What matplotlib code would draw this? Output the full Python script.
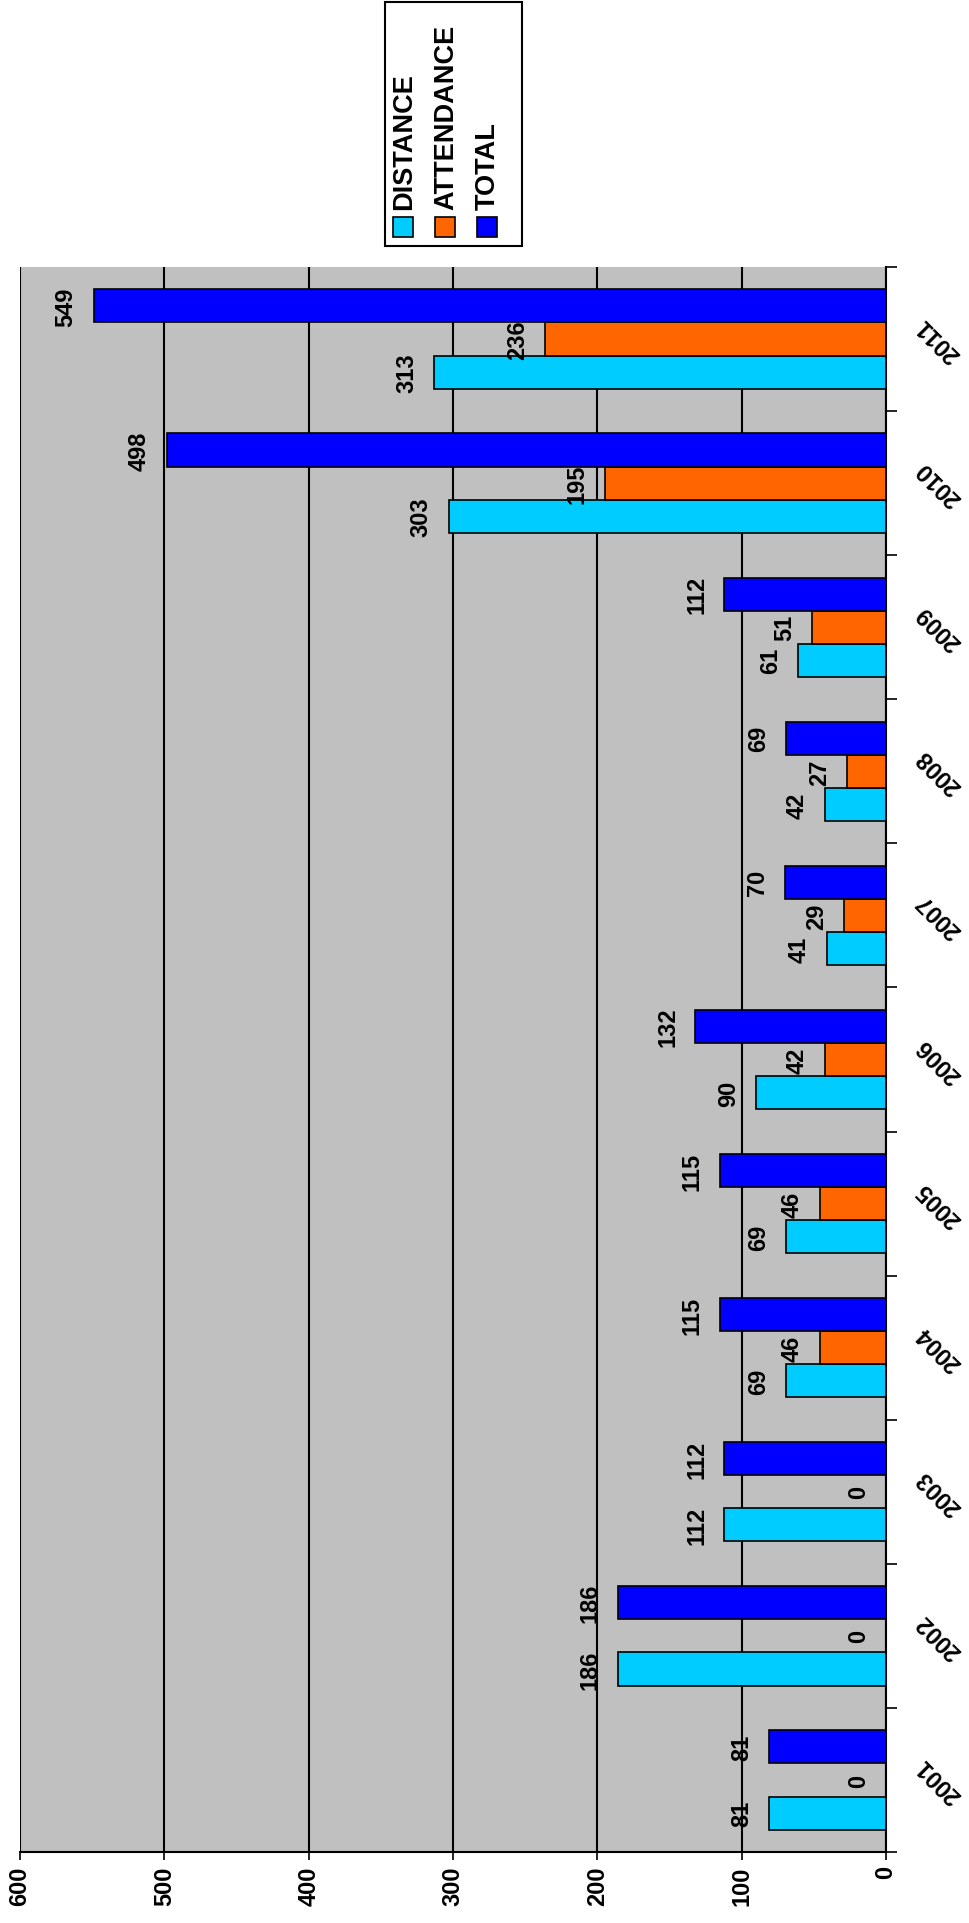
import matplotlib
matplotlib.use("Agg")
import matplotlib.pyplot as plt
from matplotlib.patches import Rectangle
import numpy as np

plt.rcParams['font.family'] = ['Liberation Sans', 'DejaVu Sans']

years = ["2001","2002","2003","2004","2005","2006","2007","2008","2009","2010","2011"]
distance = [81,186,112,69,69,90,41,42,61,303,313]
attendance = [0,0,0,46,46,42,29,27,51,195,236]
total = [81,186,112,115,115,132,70,69,112,498,549]
series = [("DISTANCE", distance, "#00CCFF"), ("ATTENDANCE", attendance, "#FF6600"), ("TOTAL", total, "#0000FF")]

W, H = 969, 1924
fig = plt.figure(figsize=(W/100, H/100), dpi=100)
L, R, T, B = 20, 886, 268, 1853
ax = fig.add_axes([L/W, 1-B/H, (R-L)/W, (B-T)/H])
ax.set_facecolor("#C0C0C0")
y = np.arange(len(years))
w = 0.23
for i, (name, vals, col) in enumerate(series):
    pos = y + (i-1)*w
    ax.barh(pos, vals, height=w, color=col, edgecolor="black", linewidth=1.2, zorder=3)
    for p, v in zip(pos, vals):
        ax.annotate(str(v), (v, p), xytext=(-20, 0), textcoords="offset points",
                    rotation=90, ha="center", va="center", fontsize=17, fontweight="bold", zorder=4)
ax.set_xlim(0, 600)
ax.invert_xaxis()
ax.set_ylim(-0.5, len(years)-0.5)
ax.set_xticks(range(0, 601, 100))
ax.set_xticklabels([str(v) for v in range(0, 601, 100)], rotation=90, fontsize=17, fontweight="bold")
ax.tick_params(axis="x", length=6, width=1.2)
ax.xaxis.grid(True, color="black", linewidth=1.5, zorder=1)
ax.yaxis.tick_right()
ax.set_yticks(y)
ax.set_yticklabels(years, rotation=135, fontsize=17, fontweight="bold", va="center", ha="center")
ax.set_yticks(np.arange(-0.5, len(years), 1), minor=True)
ax.tick_params(axis="y", which="major", length=0, pad=38)
ax.tick_params(axis="y", which="minor", length=8, width=1.2)
for s in ["top", "left"]:
    ax.spines[s].set_visible(False)
for s in ["bottom", "right"]:
    ax.spines[s].set_linewidth(1.5)

# legend (rotated)
fig.patches.append(Rectangle((385/W, 1-247/H), 137/W, 244/H, transform=fig.transFigure,
                             facecolor="white", edgecolor="black", linewidth=1.5))
for xc, (name, vals, col) in zip([403, 445, 487], series):
    fig.patches.append(Rectangle(((xc-10)/W, 1-238/H), 20/W, 20/H, transform=fig.transFigure,
                                 facecolor=col, edgecolor="black", linewidth=1.2))
    fig.text((xc+1)/W, 1-210/H, name, rotation=90, ha="center", va="bottom", fontsize=19.5, fontweight="bold")

fig.savefig("out.png", dpi=100)
